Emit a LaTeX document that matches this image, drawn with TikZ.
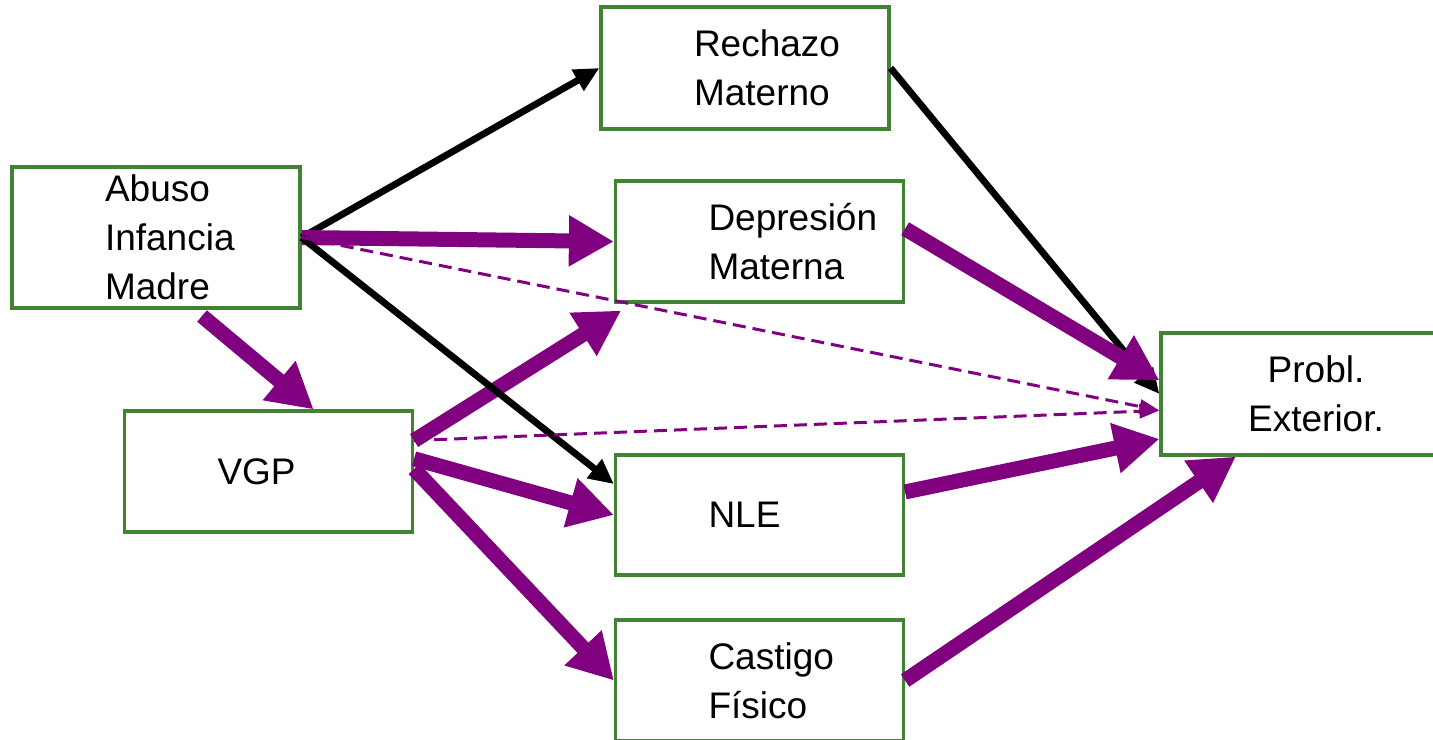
\documentclass[tikz,border=0pt]{standalone}
\usepackage{fontspec}
\setmainfont{Liberation Sans}
\usetikzlibrary{arrows.meta,positioning}
\definecolor{BoxGreen}{RGB}{65,130,52}
\definecolor{PathPurple}{RGB}{128,0,128}
\hyphenpenalty=10000

\begin{document}
\begin{tikzpicture}[x=0.5pt,y=-0.5pt,
    every node/.style={font=\fontsize{18.5}{24.5}\selectfont},
    var/.style={draw=BoxGreen,line width=1.6pt,inner ysep=0pt,inner xsep=46.5pt,text width=51pt,align=left,minimum height=60.5pt},
    outvar/.style={draw=BoxGreen,line width=1.6pt,inner ysep=0pt,minimum width=155pt,minimum height=61pt,align=center},
    fuerte/.style={draw=PathPurple,line width=7.5pt,-{Triangle[length=22.5pt,width=24pt]}},
    directo/.style={draw=black,line width=3.4pt,-{Triangle[length=12.5pt,width=11.5pt]}},
    nosig/.style={draw=PathPurple,line width=1.5pt,dash pattern=on 6.5pt off 3.5pt,-{Triangle[length=10pt,width=7pt]}}]
    \useasboundingbox (0,0) rectangle (1433,739);
    \clip (0,0) rectangle (1433,739);
    % variables
    \node[var,minimum height=70.5pt] (abuso) at (156,237.5) {Abuso\\Infancia\\Madre};
    \node[var] (vgp) at (268.5,471.5) {VGP};
    \node[var,minimum height=61pt] (rech) at (745,68) {Rechazo\\Materno};
    \node[var] (dep) at (759.5,241.5) {Depresión\\Materna};
    \node[var,minimum height=60pt] (nle) at (759.5,515) {NLE};
    \node[var] (cast) at (759.5,680.5) {Castigo\\Físico};
    \node[outvar] (prob) at (1316,394) {Probl.\\Exterior.};
    % paths
    \draw[directo] (abuso.east) -- (rech.west);
    \draw[directo] (rech.east) -- (prob.west);
    \draw[fuerte] (abuso.east) -- (dep.west);
    \draw[fuerte,shorten <=5pt] (abuso.-62) -- (vgp.54);
    \draw[fuerte,shorten >=6.5pt] (vgp.12) -- (dep.206);
    \draw[directo] (abuso.east) -- (nle.168);
    \draw[nosig] (abuso.east) -- (prob.186);
    \draw[nosig] (vgp.12) -- (prob.186);
    \draw[fuerte] (vgp.5) -- (nle.west);
    \draw[fuerte] (vgp.1) -- (cast.west);
    \draw[fuerte] (dep.5) -- (prob.175);
    \draw[fuerte] (nle.9) -- (prob.196);
    \draw[fuerte] (cast.east) -- (prob.218);
\end{tikzpicture}
\end{document}
